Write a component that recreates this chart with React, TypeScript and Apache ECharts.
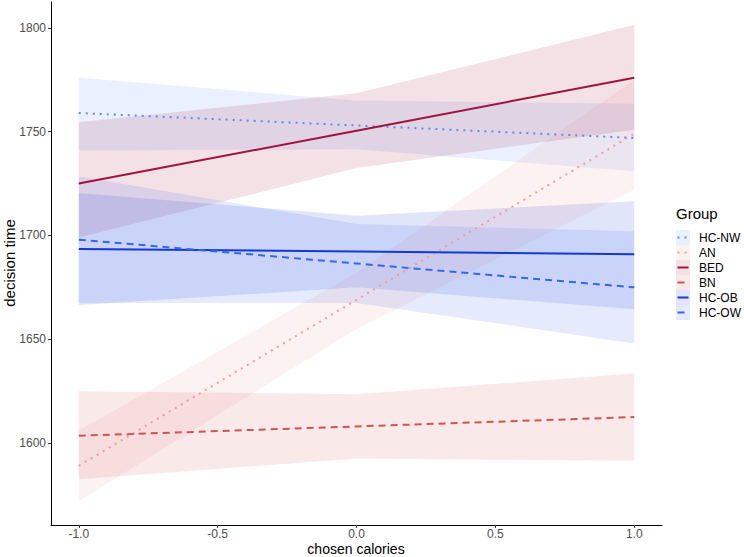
import React, { useEffect, useRef } from "react";
import * as echarts from "echarts";

// ---- data ----
const groups = ["HC-NW", "AN", "BED", "BN", "HC-OB", "HC-OW"];
const xs = [-1, 0, 1];
const fitHCNW = [1759, 1753, 1747];
const fitAN = [1589, 1669, 1749];
const fitBED = [1725, 1750.5, 1776];
const fitBN = [1603.5, 1608, 1612.5];
const fitHCOB = [1693.5, 1692.3, 1691];
const fitHCOW = [1698, 1686.5, 1675];

const lowHCNW = [1741, 1741.5, 1731];
const upHCNW = [1776, 1765, 1763.5];
const lowAN = [1572, 1655, 1722];
const upAN = [1606, 1682, 1775];
const lowBED = [1699, 1732.5, 1751];
const upBED = [1754.5, 1768.5, 1801.5];
const lowBN = [1582.5, 1592.5, 1591.5];
const upBN = [1625, 1623.5, 1633.5];
const lowHCOB = [1666.5, 1675, 1664.5];
const upHCOB = [1720.5, 1709.5, 1716.5];
const lowHCOW = [1667.5, 1667.5, 1648];
const upHCOW = [1728.5, 1705.5, 1702];

const fits = [fitHCNW, fitAN, fitBED, fitBN, fitHCOB, fitHCOW];
const lows = [lowHCNW, lowAN, lowBED, lowBN, lowHCOB, lowHCOW];
const ups = [upHCNW, upAN, upBED, upBN, upHCOB, upHCOW];

const xTicks = [-1, -0.5, 0, 0.5, 1];
const yTicks = [1600, 1650, 1700, 1750, 1800];

// ---- styles ----
const colors = ["#5B8DEF", "#F29B9B", "#A0143C", "#CD5555", "#1539D6", "#3366F2"];
const kinds = ["dotted", "dotted", "solid", "dashed", "solid", "dashed"];
const FILL_ALPHA = 0.13;

function rgba(hex: string, a: number) {
  const n = parseInt(hex.slice(1), 16);
  return `rgba(${(n >> 16) & 255},${(n >> 8) & 255},${n & 255},${a})`;
}
function dashOf(kind: string): any {
  if (kind === "dotted") return [2, 5];
  if (kind === "dashed") return [7, 5];
  return "solid";
}

const FONT = "'Liberation Sans', Arial, sans-serif";

export default function App() {
  const ref = useRef<HTMLDivElement>(null);
  useEffect(() => {
    if (!ref.current) return;
    const chart = echarts.init(ref.current, undefined, { renderer: "svg" });

    const bandSeries = groups.map((g, gi) => ({
      type: "custom",
      name: g + " band",
      z: 1,
      silent: true,
      data: xs.map((x, i) => [x, lows[gi][i], ups[gi][i]]),
      encode: { x: 0, y: [1, 2] },
      renderItem: (params: any, api: any) => {
        if (params.dataIndex !== 0) return null;
        const pts: number[][] = [];
        for (let i = 0; i < xs.length; i++) pts.push(api.coord([xs[i], ups[gi][i]]));
        for (let i = xs.length - 1; i >= 0; i--) pts.push(api.coord([xs[i], lows[gi][i]]));
        return {
          type: "polygon",
          shape: { points: pts },
          style: { fill: rgba(colors[gi], FILL_ALPHA), stroke: null },
        };
      },
    }));

    const lineSeries = groups.map((g, gi) => ({
      type: "line",
      name: g,
      z: 3,
      silent: true,
      showSymbol: false,
      symbol: "none",
      data: xs.map((x, i) => [x, fits[gi][i]]),
      lineStyle: { color: colors[gi], width: 2, type: dashOf(kinds[gi]), cap: "butt" },
    }));

    const legendX = 676;
    const legendY0 = 237.5;
    const step = 15;
    const legendEls: any[] = [
      {
        type: "text",
        left: legendX,
        top: 206,
        style: { text: "Group", font: `15px ${FONT}`, fill: "#000" },
      },
    ];
    groups.forEach((g, gi) => {
      const cy = legendY0 + gi * step;
      legendEls.push({
        type: "rect",
        shape: { x: legendX, y: cy - 7.5, width: 14, height: 15 },
        style: { fill: rgba(colors[gi], FILL_ALPHA), stroke: null },
      });
      legendEls.push({
        type: "line",
        shape: { x1: legendX + 1.5, y1: cy, x2: legendX + 12.5, y2: cy },
        style: {
          stroke: colors[gi],
          lineWidth: 2,
          lineDash: kinds[gi] === "solid" ? null : dashOf(kinds[gi]),
        },
      });
      legendEls.push({
        type: "text",
        x: 699,
        y: cy,
        style: { text: g, font: `12px ${FONT}`, fill: "#000", verticalAlign: "middle", align: "left" },
      });
    });
    legendEls.push({
      type: "text",
      x: 9,
      y: 263,
      rotation: Math.PI / 2,
      style: { text: "decision time", font: `15px ${FONT}`, fill: "#000", align: "center", verticalAlign: "middle" },
    });
    legendEls.push({
      type: "text",
      x: 356,
      y: 549,
      style: { text: "chosen calories", font: `14px ${FONT}`, fill: "#000", align: "center", verticalAlign: "middle" },
    });

    chart.setOption({
      animation: false,
      backgroundColor: "#fff",
      grid: { left: 51, right: 82, top: 2, bottom: 32, containLabel: false, outerBoundsMode: "none" },
      xAxis: {
        type: "value",
        min: -1.1,
        max: 1.1,
        axisLine: { show: true, onZero: false, lineStyle: { color: "#000", width: 1 } },
        axisTick: { show: true, length: 3, lineStyle: { color: "#333" }, customValues: xTicks },
        axisLabel: {
          show: true,
          customValues: xTicks,
          formatter: (v: number) => v.toFixed(1),
          color: "#4D4D4D",
          fontSize: 12,
          fontFamily: FONT,
          margin: 3,
        },
        splitLine: { show: false },
      },
      yAxis: {
        type: "value",
        min: 1560.5,
        max: 1812.5,
        axisLine: { show: true, onZero: false, lineStyle: { color: "#000", width: 1 } },
        axisTick: { show: true, length: 3, lineStyle: { color: "#333" }, customValues: yTicks },
        axisLabel: {
          show: true,
          customValues: yTicks,
          formatter: (v: number) => String(v),
          color: "#4D4D4D",
          fontSize: 12,
          fontFamily: FONT,
          margin: 5,
        },
        splitLine: { show: false },
      },
      graphic: legendEls,
      series: [...bandSeries, ...lineSeries],
    });
    return () => chart.dispose();
  }, []);
  return (
    <div
      ref={ref}
      style={{ position: "fixed", left: 0, top: 0, width: 744, height: 557, background: "#fff" }}
    />
  );
}
